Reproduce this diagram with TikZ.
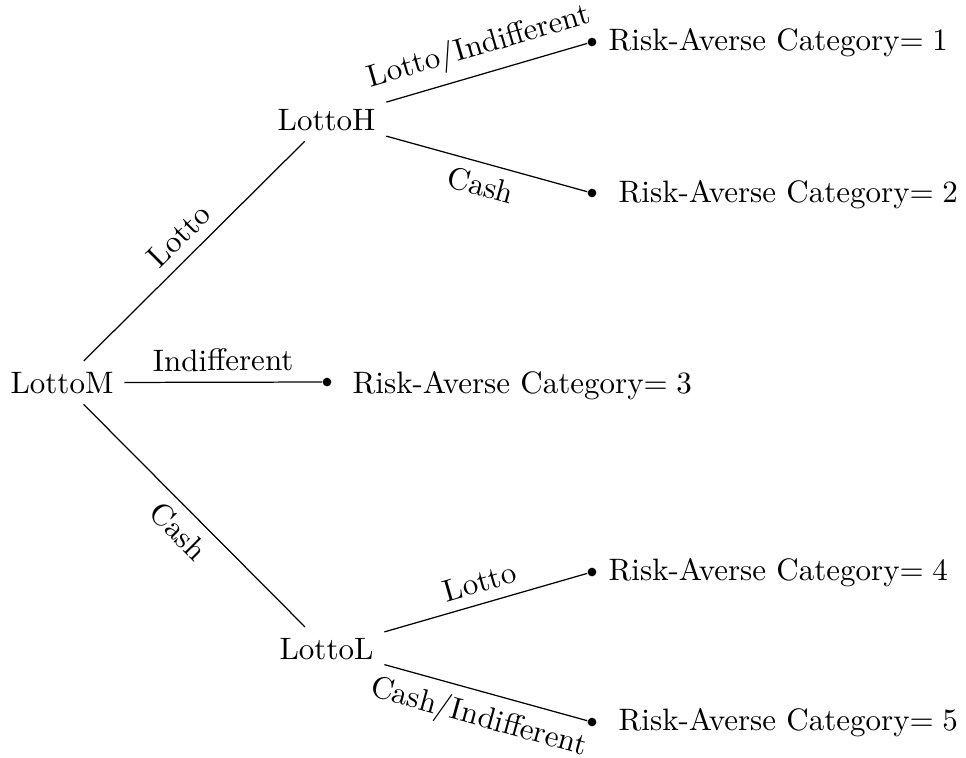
\documentclass[tikz,border=0pt]{standalone}
\begin{document}
\begin{tikzpicture}[x=0.3226pt,y=-0.3226pt,
  tnode/.style={anchor=base},
  leafdot/.style={circle,fill,inner sep=0pt,minimum size=2.8pt},
  leaftext/.style={anchor=base west,inner sep=0pt},
  conn/.style={draw,line width=0.4pt},
  elab/.style={midway,sloped}]
\useasboundingbox (0,0) rectangle (966,757);
% internal nodes
\node[tnode] (M) at (62,393) {LottoM};
\node[tnode] (H) at (326.5,130) {LottoH};
\node[tnode] (L) at (326.5,659) {LottoL};
% leaf dots
\node[leafdot] (d1) at (592,42) {};
\node[leafdot] (d2) at (592,193) {};
\node[leafdot] (d3) at (327,382) {};
\node[leafdot] (d4) at (592,572) {};
\node[leafdot] (d5) at (592,722) {};
% leaf texts
\node[leaftext] (t1) at (608,50) {Risk-Averse Category$=1$};
\node[leaftext] (t2) at (618,202) {Risk-Averse Category$=2$};
\node[leaftext] (t3) at (352,393) {Risk-Averse Category$=3$};
\node[leaftext] (t4) at (608,580) {Risk-Averse Category$=4$};
\node[leaftext] (t5) at (618,730) {Risk-Averse Category$=5$};
% connectors
\draw[conn] (M) -- node[elab,above] {Lotto} (H);
\draw[conn] (M) -- node[elab,above] {Indifferent} (d3);
\draw[conn] (M) -- node[elab,below] {Cash} (L);
\draw[conn] (H) -- node[elab,above] {Lotto/Indifferent} (d1);
\draw[conn] (H) -- node[elab,below] {Cash} (d2);
\draw[conn] (L) -- node[elab,above] {Lotto} (d4);
\draw[conn] (L) -- node[elab,below] {Cash/Indifferent} (d5);
\end{tikzpicture}
\end{document}
